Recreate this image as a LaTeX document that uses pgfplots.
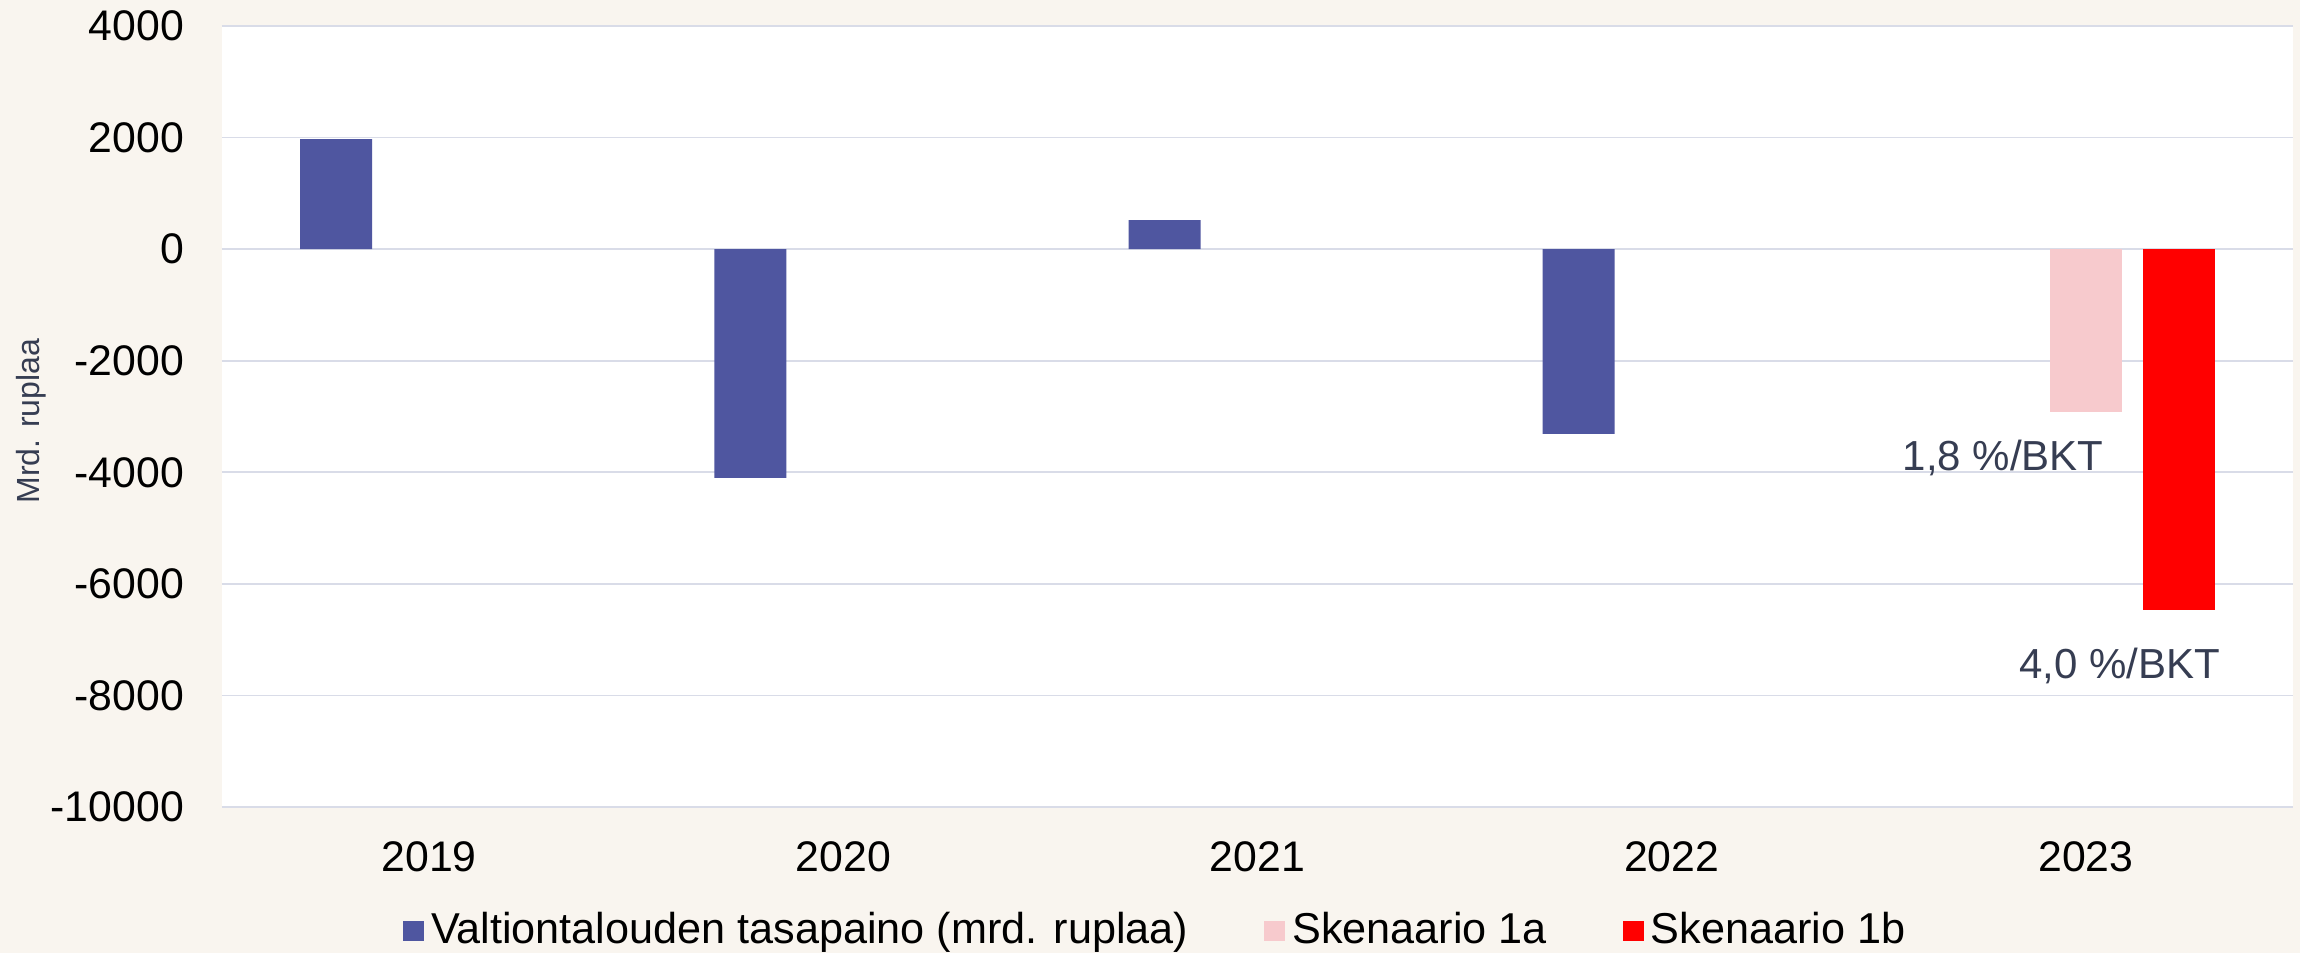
\documentclass[border=0pt]{standalone}
\usepackage{pgfplots}
\pgfplotsset{compat=1.18}
\usepackage{fontspec}
\setmainfont{Liberation Sans}
\definecolor{bg}{HTML}{F9F5EF}
\definecolor{barblue}{HTML}{4F56A0}
\definecolor{barpink}{HTML}{F7CACD}
\definecolor{barred}{HTML}{FF0000}
\definecolor{gridc}{HTML}{D9DCE8}
\definecolor{lbl}{HTML}{363D52}
\begin{document}
\begin{tikzpicture}
\fill[bg] (-55.5pt,-36.5pt) rectangle (519.5pt,201.75pt);
\useasboundingbox (-55.5pt,-36.5pt) rectangle (519.5pt,201.75pt);
\begin{axis}[
 at={(0,0)}, anchor=south west,
 scale only axis, width=517.75pt, height=195.25pt,
 ybar=5.25pt, bar width=18pt,
 xmin=-0.5, xmax=4.5, ymin=-10000, ymax=4000,
 xtick={0,1,2,3,4}, xticklabels={2019,2020,2021,2022,2023},
 ytick={-10000,-8000,...,4000},
 scaled y ticks=false,
 axis background/.style={fill=white},
 axis line style={draw=none},
 major tick length=0pt,
 ymajorgrids, grid style={gridc, line width=0.4pt},
 tick label style={font=\fontsize{10.7}{12}\selectfont, black},
 /pgf/number format/assume math mode=true,
 /pgf/number format/1000 sep={},
 yticklabel style={xshift=-6pt},
 xticklabel style={yshift=-5pt},
 ylabel={Mrd. ruplaa},
 ylabel style={at={(axis description cs:-0.092,0.494)}, anchor=center, font=\fontsize{8}{10}\selectfont, lbl},
 legend style={at={(axis description cs:0.449,0)}, anchor=center, xshift=1.5pt, yshift=-31pt, draw=none, fill=none, legend columns=-1, font=\fontsize{10.8}{12}\selectfont, nodes={inner xsep=1.8pt}, /tikz/every even column/.append style={column sep=17.2pt}},
 legend image code/.code={\fill[#1] (0pt,-2.6pt) rectangle (5.2pt,2.6pt);},
 clip=false,
]
\addplot[fill=barblue, draw=none] coordinates {(0,1970) (1,-4100) (2,520) (3,-3310)};
\addlegendentry{Valtiontalouden tasapaino (mrd. ruplaa)}
\addplot[fill=barpink, draw=none] coordinates {(4,-2920)};
\addlegendentry{Skenaario 1a}
\addplot[fill=barred, draw=none] coordinates {(4,-6470)};
\addlegendentry{Skenaario 1b}
\node[anchor=base, font=\fontsize{10.5}{12}\selectfont, text=lbl] at (axis cs:3.80,-3974) {1,8 \%/BKT};
\node[anchor=base, font=\fontsize{10.5}{12}\selectfont, text=lbl] at (axis cs:4.082,-7698) {4,0 \%/BKT};
\end{axis}
\end{tikzpicture}
\end{document}
